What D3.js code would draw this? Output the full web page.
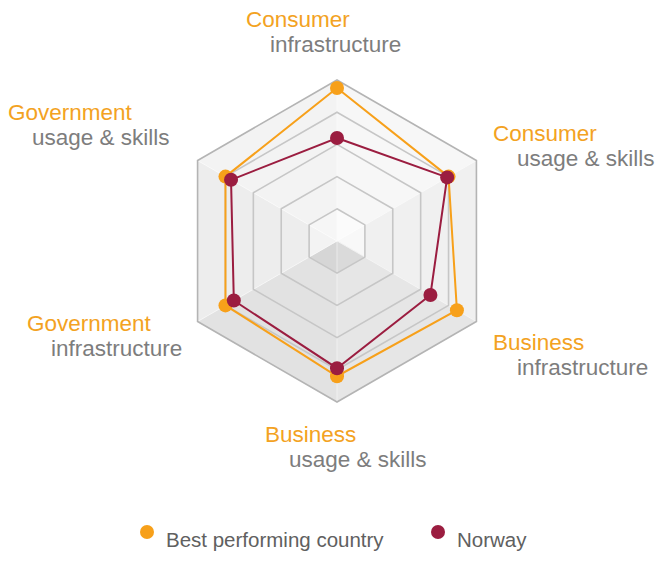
<!DOCTYPE html>
<html>
<head>
<meta charset="utf-8">
<script src="https://cdn.jsdelivr.net/npm/d3@7"></script>
<style>
  body { margin: 0; background: #fff; }
  svg text { font-family: "Liberation Sans", Arial, sans-serif; }
</style>
</head>
<body>
<div id="viz"></div>
<script>
// axes, clockwise from the top
const categories = [
  ["Consumer", "infrastructure"],
  ["Consumer", "usage & skills"],
  ["Business", "infrastructure"],
  ["Business", "usage & skills"],
  ["Government", "infrastructure"],
  ["Government", "usage & skills"]
];
const bestValues   = [0.95, 0.80, 0.86, 0.84, 0.80, 0.80];
const norwayValues = [0.64, 0.79, 0.67, 0.79, 0.74, 0.76];
const seriesNames  = ["Best performing country", "Norway"];
const gridLevels   = [0.2, 0.4, 0.6, 0.8, 1.0];

const width = 664, height = 566;
const cx = 337, cy = 241, R = 161;
const orange = "#f7a01a", maroon = "#9b1d40";

const svg = d3.select("#viz")
    .append("svg")
    .attr("width", width)
    .attr("height", height);

const r = d3.scaleLinear().domain([0, 1]).range([0, R]);
const angle = d3.scaleLinear().domain([0, categories.length]).range([0, 2 * Math.PI]);

function pt(i, v) {
    const a = angle(i);
    return [cx + r(v) * Math.sin(a), cy - r(v) * Math.cos(a)];
}

// shading per sector (top->UR, UR->LR, LR->bottom, bottom->LL, LL->UL, UL->top)
const sectorFill = ["#f7f7f7", "#f0f0f0", "#e6e6e6", "#e2e2e2", "#ededed", "#f3f3f3"];
const coreFill   = ["#fbfbfb", "#f8f8f8", "#dadada", "#d6d6d6", "#f3f3f3", "#f6f6f6"];

const shade = svg.append("g");
gridLevels.forEach((lv, k) => {
    const inner = k === 0 ? 0 : gridLevels[k - 1];
    d3.range(6).forEach(s => {
        const pts = [pt(s, inner), pt(s, lv), pt(s + 1, lv), pt(s + 1, inner)];
        shade.append("path")
            .attr("d", d3.line()(pts) + "Z")
            .attr("fill", k === 0 ? coreFill[s] : sectorFill[s])
            .attr("stroke", k === 0 ? coreFill[s] : sectorFill[s])
            .attr("stroke-width", 0.5);
    });
});

// faint axis seams
shade.selectAll(".seam")
    .data(d3.range(6))
    .join("line")
    .attr("x1", cx).attr("y1", cy)
    .attr("x2", i => pt(i, 1)[0])
    .attr("y2", i => pt(i, 1)[1])
    .attr("stroke", "#ffffff")
    .attr("stroke-opacity", 0.5)
    .attr("stroke-width", 1);

// grid hexagons
svg.append("g")
    .selectAll("path")
    .data(gridLevels)
    .join("path")
    .attr("d", lv => d3.line()(d3.range(6).map(i => pt(i, lv))) + "Z")
    .attr("fill", "none")
    .attr("stroke", (lv) => lv === 1 ? "#b4b4b4" : "#c6c6c6")
    .attr("stroke-width", 1.6);

// series
[[bestValues, orange], [norwayValues, maroon]].forEach(([vals, col]) => {
    const g = svg.append("g");
    g.append("path")
        .attr("d", d3.line()(vals.map((v, i) => pt(i, v))) + "Z")
        .attr("fill", "none")
        .attr("stroke", col)
        .attr("stroke-width", 2);
    g.selectAll("circle")
        .data(vals)
        .join("circle")
        .attr("cx", (v, i) => pt(i, v)[0])
        .attr("cy", (v, i) => pt(i, v)[1])
        .attr("r", 7)
        .attr("fill", col);
});

// axis labels: first line x / baseline, second line indented below
const labelPos = [[246, 27], [493, 141], [493, 350], [265, 442], [27, 331], [8, 120]];
const labels = svg.append("g").style("font-size", "22.5px");
categories.forEach((c, i) => {
    const [x, y] = labelPos[i];
    labels.append("text").attr("x", x).attr("y", y).attr("fill", "#f3a222").text(c[0]);
    labels.append("text").attr("x", x + 24).attr("y", y + 24.5).attr("fill", "#7d7d7d").text(c[1]);
});

// legend
const legendX = [147, 438];
const legend = svg.append("g");
seriesNames.forEach((name, i) => {
    legend.append("circle")
        .attr("cx", legendX[i]).attr("cy", 532)
        .attr("r", 7)
        .attr("fill", i === 0 ? orange : maroon);
    legend.append("text")
        .attr("x", legendX[i] + 19).attr("y", 547)
        .attr("fill", "#606060")
        .style("font-size", "20.5px")
        .text(name);
});
</script>
</body>
</html>
